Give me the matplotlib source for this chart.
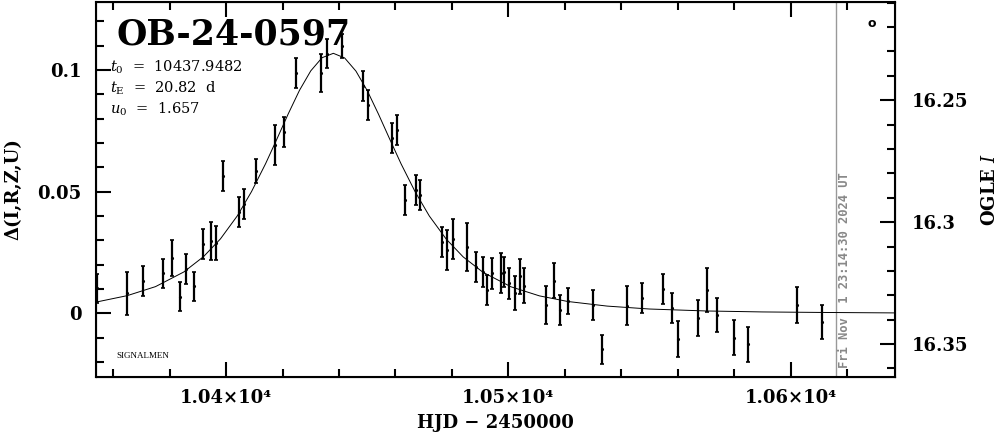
import numpy as np
import matplotlib
matplotlib.use("Agg")
import matplotlib.pyplot as plt
from matplotlib.ticker import MultipleLocator

# photometry: HJD-2450000, delta flux, error
hjd = [10354.4, 10364.8, 10370.7, 10377.8, 10380.8, 10383.7, 10385.8, 10388.8, 10391.7, 10394.7,
       10396.5, 10398.8, 10404.6, 10406.5, 10410.6, 10417.4, 10420.5, 10424.7, 10433.5, 10435.7,
       10441.0, 10448.6, 10450.4, 10458.7, 10460.5, 10463.4, 10467.3, 10468.7, 10476.4, 10478.4,
       10480.3, 10485.5, 10488.5, 10491.1, 10492.6, 10494.3, 10497.3, 10498.6, 10500.2, 10502.4,
       10504.1, 10505.6, 10513.4, 10516.3, 10518.3, 10521.3, 10530.1, 10533.3, 10542.2, 10547.3,
       10554.9, 10558.1, 10560.2, 10567.1, 10570.3, 10574.0, 10580.1, 10585.0, 10602.2, 10611.2]
dflux = [0.0103, 0.0082, 0.0133, 0.0164, 0.0226, 0.0068, 0.0182, 0.0112, 0.0285, 0.0298,
         0.0290, 0.0564, 0.0415, 0.0448, 0.0586, 0.0692, 0.0745, 0.0986, 0.0986, 0.1066,
         0.1099, 0.0935, 0.0856, 0.0719, 0.0753, 0.0466, 0.0507, 0.0486, 0.0294, 0.0260,
         0.0304, 0.0274, 0.0192, 0.0171, 0.0095, 0.0164, 0.0164, 0.0171, 0.0123, 0.0085,
         0.0153, 0.0113, 0.0034, 0.0134, 0.0014, 0.0052, 0.0034, -0.0147, 0.0032, 0.0062,
         0.0100, 0.0021, -0.0107, -0.0018, 0.0096, -0.0007, -0.0099, -0.0127, 0.0034, -0.0037]
derr = [0.0060, 0.0090, 0.0060, 0.0058, 0.0074, 0.0060, 0.0062, 0.0060, 0.0062, 0.0078,
        0.0070, 0.0060, 0.0062, 0.0062, 0.0049, 0.0082, 0.0060, 0.0062, 0.0078, 0.0060,
        0.0049, 0.0062, 0.0062, 0.0062, 0.0062, 0.0062, 0.0062, 0.0062, 0.0062, 0.0082,
        0.0082, 0.0099, 0.0062, 0.0062, 0.0062, 0.0062, 0.0082, 0.0062, 0.0062, 0.0070,
        0.0072, 0.0072, 0.0078, 0.0072, 0.0062, 0.0053, 0.0062, 0.0060, 0.0080, 0.0062,
        0.0062, 0.0062, 0.0074, 0.0074, 0.0090, 0.0070, 0.0072, 0.0072, 0.0074, 0.0070]

# model curve
model_t = [10354, 10355, 10365, 10375, 10385, 10392, 10398, 10404, 10409, 10414, 10418, 10422,
           10426, 10430, 10434, 10438, 10442, 10446, 10450, 10454, 10458, 10462, 10467, 10472,
           10478, 10484, 10491, 10501, 10511, 10521, 10535, 10550, 10570, 10590, 10610, 10637]
model_d = [0.0048, 0.0049, 0.0073, 0.0110, 0.0170, 0.0233, 0.0306, 0.0401, 0.0500, 0.0615,
           0.0716, 0.0819, 0.0916, 0.0996, 0.1050, 0.1068, 0.1049, 0.0995, 0.0915, 0.0818,
           0.0715, 0.0614, 0.0499, 0.0400, 0.0305, 0.0232, 0.0169, 0.0109, 0.0072, 0.0049,
           0.0030, 0.0018, 0.0010, 0.0006, 0.0004, 0.0002]

event = "OB-24-0597"
params = [r"$t_{\rm 0}$  =  10437.9482", r"$t_{\rm E}$  =  20.82  d", r"$u_{\rm 0}$  =  1.657"]
now_hjd = 10616.1
stamp = "Fri Nov  1 23:14:30 2024 UT"

xlim = (10353.8, 10637.0)
ylim = (-0.0260, 0.1280)
maglim = (16.3634, 16.2096)

xticks = [10400, 10500, 10600]
xticklabels = ["1.04×10⁴", "1.05×10⁴", "1.06×10⁴"]
yticks = [0, 0.05, 0.1]
yticklabels = ["0", "0.05", "0.1"]
magticks = [16.25, 16.3, 16.35]
magticklabels = ["16.25", "16.3", "16.35"]

lab = dict(family="DejaVu Serif", weight="bold", size=13)

fig = plt.figure(figsize=(9.99, 4.34), dpi=100)
ax = fig.add_axes([0.0958, 0.1320, 0.8001, 0.8641])

ax.axvline(now_hjd, color="#999999", lw=1.0, zorder=1)
ax.plot(model_t, model_d, color="black", lw=0.7, zorder=2)
ax.errorbar(hjd, dflux, yerr=derr, fmt=".", ms=2.5, color="black", ecolor="black",
            elinewidth=1.6, capsize=1.3, capthick=1.2, zorder=3)

ax.set_xlim(*xlim)
ax.set_ylim(*ylim)
ax.set_xticks(xticks)
ax.set_xticklabels(xticklabels, **lab)
ax.set_yticks(yticks)
ax.set_yticklabels(yticklabels, **lab)
ax.xaxis.set_minor_locator(MultipleLocator(20))
ax.yaxis.set_minor_locator(MultipleLocator(0.01))
ax.tick_params(which="both", direction="in", top=True, right=False, width=1.5)
ax.tick_params(which="major", length=11)
ax.tick_params(which="minor", length=5.5)
ax.tick_params(axis="x", pad=9)
ax.tick_params(axis="y", pad=10)
for s in ax.spines.values():
    s.set_linewidth(1.5)

ax2 = ax.twinx()
ax2.set_ylim(*maglim)
ax2.set_yticks(magticks)
ax2.set_yticklabels(magticklabels, **lab)
ax2.yaxis.set_minor_locator(MultipleLocator(0.01))
ax2.tick_params(which="both", direction="in", width=1.5, pad=12)
ax2.tick_params(which="major", length=11)
ax2.tick_params(which="minor", length=6)

ax.set_xlabel("HJD − 2450000", **lab)
ax.xaxis.set_label_coords(0.5, -0.100)
ax.set_ylabel("Δ(I,R,Z,U)", **lab)
ax.yaxis.set_label_coords(-0.092, 0.5)
ax2.set_ylabel("OGLE $I$", math_fontfamily="dejavuserif", **lab)
ax2.yaxis.set_label_coords(1.108, 0.5)

fig.text(0.1170, 0.898, event, family="DejaVu Serif", weight="bold", size=25, va="baseline")
for i, p in enumerate(params):
    fig.text(0.110, 0.8348 - i * 0.048, p, family="DejaVu Serif", size=10.5,
             math_fontfamily="dejavuserif", va="baseline")
fig.text(0.1168, 0.1744, "SIGNALMEN", family="Liberation Serif", size=6.5, va="baseline")
fig.text(0.8724, 0.946, "o", family="DejaVu Sans", weight="bold", size=9, ha="center", va="center")
fig.text(0.8458, 0.152, stamp, family="DejaVu Sans Mono", weight="bold", size=8.7,
         color="#888888", rotation=90, ha="center", va="bottom")

fig.savefig("out.png", dpi=100)
